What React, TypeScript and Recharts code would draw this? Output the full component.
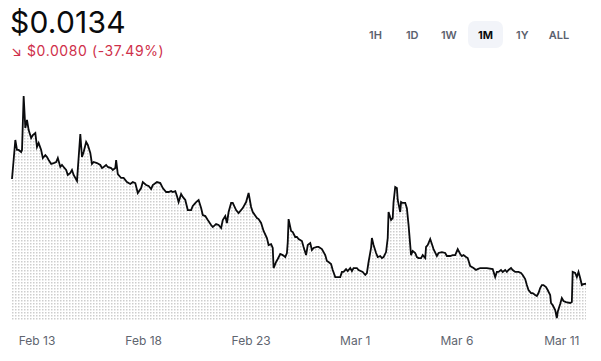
import React from 'react';
import { AreaChart, Area, XAxis, YAxis } from 'recharts';

// hours since start of the 1M window
const hours = [
  0, 4, 6, 8, 11, 12, 14, 16, 18, 20,
  23, 25, 28, 30, 32, 35, 37, 40, 42, 44,
  47, 50, 53, 55, 58, 60, 62, 65, 67, 70,
  72, 74, 78, 82, 84, 86, 89, 91, 94, 96,
  98, 102, 106, 108, 110, 113, 115, 119, 121, 124,
  125, 127, 131, 134, 138, 142, 145, 148, 151, 155,
  157, 161, 164, 167, 169, 174, 178, 181, 185, 188,
  191, 193, 196, 198, 200, 203, 205, 208, 211, 215,
  217, 221, 224, 227, 229, 232, 235, 239, 241, 245,
  248, 251, 253, 256, 258, 260, 263, 265, 269, 272,
  277, 281, 284, 287, 289, 294, 296, 299, 302, 306,
  308, 311, 313, 314, 317, 319, 322, 325, 328, 330,
  331, 332, 335, 337, 340, 342, 344, 348, 350, 353,
  355, 358, 360, 362, 366, 368, 372, 376, 378, 380,
  383, 385, 388, 390, 394, 396, 398, 401, 403, 406,
  408, 410, 414, 416, 421, 424, 426, 428, 431, 432,
  434, 437, 439, 442, 444, 446, 449, 451, 452, 455,
  457, 458, 460, 462, 463, 466, 467, 469, 472, 474,
  476, 479, 481, 484, 486, 488, 491, 493, 496, 497,
  499, 502, 504, 506, 510, 512, 516, 520, 522, 526,
  529, 532, 535, 538, 540, 542, 545, 547, 550, 552,
  554, 557, 559, 562, 570, 577, 580, 582, 584, 587,
  589, 592, 594, 596, 599, 601, 604, 608, 611, 613,
  616, 618, 620, 623, 625, 628, 630, 632, 634, 636,
  638, 641, 643, 646, 647, 649, 652, 654, 655, 658,
  660, 662, 665, 670, 672, 673, 676, 678, 680, 682,
  684, 686, 689,
];

const prices = [
  0.0214, 0.02438, 0.02362, 0.02362, 0.02346, 0.02362, 0.02774, 0.0253, 0.02591, 0.02514,
  0.02453, 0.02476, 0.02491, 0.02385, 0.02415, 0.02362, 0.023, 0.02323, 0.02308, 0.02285,
  0.02255, 0.02262, 0.0227, 0.023, 0.02232, 0.02247, 0.02232, 0.02209, 0.02171, 0.02186,
  0.02209, 0.02171, 0.02125, 0.02484, 0.02308, 0.02346, 0.02423, 0.024, 0.02339, 0.02255,
  0.0227, 0.02262, 0.02247, 0.02224, 0.02232, 0.02247, 0.02232, 0.02224, 0.02209, 0.02224,
  0.02285, 0.02178, 0.02148, 0.02148, 0.02117, 0.02102, 0.02117, 0.02109, 0.02033, 0.02071,
  0.02117, 0.02094, 0.02087, 0.02064, 0.02094, 0.02117, 0.02109, 0.02071, 0.02041, 0.02041,
  0.02048, 0.02041, 0.02048, 0.0201, 0.01964, 0.02025, 0.02003, 0.0198, 0.01903, 0.01903,
  0.01934, 0.01964, 0.0198, 0.01918, 0.01865, 0.01857, 0.01827, 0.01789, 0.01773, 0.01796,
  0.01789, 0.01766, 0.01827, 0.01857, 0.01804, 0.01888, 0.01957, 0.01957, 0.01903, 0.0188,
  0.01918, 0.01964, 0.02033, 0.01926, 0.01888, 0.01842, 0.01834, 0.01804, 0.01743, 0.01689,
  0.01636, 0.01643, 0.01613, 0.0146, 0.01506, 0.01529, 0.01567, 0.01559, 0.01544, 0.01575,
  0.01659, 0.01834, 0.01743, 0.01735, 0.01697, 0.01697, 0.01682, 0.01666, 0.01621, 0.01559,
  0.01636, 0.01651, 0.01598, 0.01613, 0.01621, 0.01621, 0.01605, 0.01559, 0.01514, 0.01506,
  0.01491, 0.01445, 0.01391, 0.01391, 0.01391, 0.0143, 0.0143, 0.01452, 0.01437, 0.0146,
  0.01437, 0.0146, 0.0146, 0.01445, 0.0143, 0.01407, 0.01422, 0.01506, 0.01613, 0.01689,
  0.01636, 0.01575, 0.01544, 0.01552, 0.01536, 0.01544, 0.01582, 0.01689, 0.01888, 0.01827,
  0.01842, 0.01964, 0.02079, 0.02071, 0.0198, 0.01888, 0.01964, 0.01957, 0.01957, 0.01918,
  0.01789, 0.01559, 0.0159, 0.01575, 0.01544, 0.01536, 0.01536, 0.01559, 0.01536, 0.01621,
  0.01636, 0.01682, 0.01643, 0.01605, 0.01552, 0.01575, 0.01582, 0.01575, 0.01552, 0.01552,
  0.01559, 0.01559, 0.01605, 0.01567, 0.01552, 0.01559, 0.01544, 0.01536, 0.01475, 0.01468,
  0.0146, 0.01445, 0.01452, 0.0146, 0.0146, 0.01452, 0.01391, 0.0143, 0.0143, 0.01445,
  0.0143, 0.01445, 0.0143, 0.01445, 0.0146, 0.01445, 0.0143, 0.0143, 0.01422, 0.01407,
  0.01376, 0.0133, 0.01292, 0.01269, 0.01269, 0.01254, 0.01246, 0.01269, 0.01307, 0.0133,
  0.0133, 0.01315, 0.01292, 0.01254, 0.01193, 0.01177, 0.01139, 0.01078, 0.01124, 0.01185,
  0.01231, 0.01208, 0.012, 0.01193, 0.012, 0.0143, 0.01422, 0.01391, 0.0143, 0.01384,
  0.0133, 0.01338, 0.0134,
];

const tickHours = [30, 158, 287, 412, 534, 660];
const tickLabels = ['Feb 13', 'Feb 18', 'Feb 23', 'Mar 1', 'Mar 6', 'Mar 11'];

const ranges = ['1H', '1D', '1W', '1M', '1Y', 'ALL'];
const activeRange = '1M';

const currentPrice = '$0.0134';
const changeText = '↘ $0.0080 (-37.49%)';

const data = hours.map((h, i) => ({ h, price: prices[i] }));

const FONT = 'Inter, "Noto Sans", sans-serif';

export default function App() {
  return (
    <div
      style={{
        position: 'absolute',
        left: 0,
        top: 0,
        width: 601,
        height: 361,
        background: '#fff',
        fontFamily: FONT,
        overflow: 'hidden',
      }}
    >
      <div
        style={{
          position: 'absolute',
          left: 10,
          top: 4,
          fontSize: 30,
          lineHeight: '36px',
          color: '#0a0b0d',
          letterSpacing: '0.2px',
        }}
      >
        {currentPrice}
      </div>
      <div
        style={{
          position: 'absolute',
          left: 11,
          top: 42,
          fontSize: 14,
          lineHeight: '18px',
          color: '#cf304a',
          letterSpacing: '0.6px',
        }}
      >
        {changeText}
      </div>

      <div style={{ position: 'absolute', top: 21, left: 358, display: 'flex' }}>
        {ranges.map((r) => (
          <div
            key={r}
            style={{
              width: 35,
              height: 27,
              marginRight: r === 'ALL' ? 0 : 1.7,
              borderRadius: 7,
              display: 'flex',
              alignItems: 'center',
              justifyContent: 'center',
              fontSize: 11,
              fontWeight: r === activeRange ? 700 : 600,
              color: r === activeRange ? '#0a0b0d' : '#5b616e',
              background: r === activeRange ? '#f2f4f9' : 'transparent',
            }}
          >
            {r}
          </div>
        ))}
      </div>

      <div style={{ position: 'absolute', left: 0, top: 0 }}>
        <AreaChart
          width={601}
          height={361}
          data={data}
          margin={{ top: 90, right: 15, bottom: 11, left: 12 }}
        >
          <defs>
            <pattern id="dotFill" width={3} height={3} patternUnits="userSpaceOnUse">
              <rect x={0} y={0} width={1.5} height={1.5} fill="#cdcdcd" />
            </pattern>
          </defs>
          <XAxis
            dataKey="h"
            type="number"
            domain={[0, 689]}
            ticks={tickHours}
            tickFormatter={(v: number) => tickLabels[tickHours.indexOf(v)] ?? ''}
            axisLine={false}
            tickLine={false}
            tickSize={0}
            tickMargin={16}
            height={30}
            interval={0}
            tick={{ fontSize: 12, fill: '#60656f', fontFamily: FONT }}
          />
          <YAxis hide type="number" domain={[0.01063, 0.0282]} allowDataOverflow />
          <Area
            type="linear"
            dataKey="price"
            stroke="#0a0b0d"
            strokeWidth={1.8}
            fill="url(#dotFill)"
            fillOpacity={1}
            dot={false}
            activeDot={false}
            isAnimationActive={false}
          />
        </AreaChart>
      </div>
    </div>
  );
}
